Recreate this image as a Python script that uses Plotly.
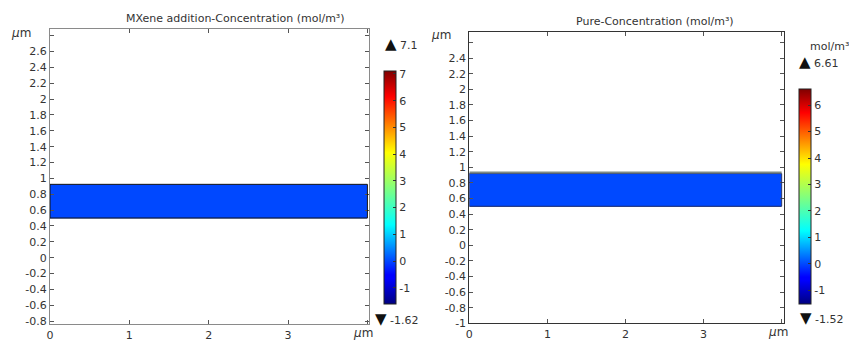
import plotly.graph_objects as go

W, H = 849, 340

# ---- data ----
titles = ["MXene addition-Concentration (mol/m³)", "Pure-Concentration (mol/m³)"]
x_ticks = [0, 1, 2, 3, 4]
x_ticktext = ["0", "1", "2", "3", ""]
yticks_left = [-0.8, -0.6, -0.4, -0.2, 0, 0.2, 0.4, 0.6, 0.8, 1, 1.2, 1.4, 1.6,
               1.8, 2, 2.2, 2.4, 2.6, 2.8]
yticks_right = [-1, -0.8, -0.6, -0.4, -0.2, 0, 0.2, 0.4, 0.6, 0.8, 1, 1.2, 1.4,
                1.6, 1.8, 2, 2.2, 2.4, 2.6]
# band geometry (µm) and concentration value
band_x = [0, 4]
band_left_y = [0.5, 0.925]
band_right_y = [0.5, 0.92]
band_right_cap = 0.932
band_conc_left = 0.0
band_conc_right = 0.0
# colour range limits
cmin_left, cmax_left = -1.62, 7.1
cmin_right, cmax_right = -1.52, 6.61
cbar_ticks_left = [-1, 0, 1, 2, 3, 4, 5, 6, 7]
cbar_ticks_right = [-1, 0, 1, 2, 3, 4, 5, 6]


def fmt(v):
    return "%g" % v


jet = [[0.0, "rgb(0,0,128)"], [0.11, "rgb(0,0,255)"], [0.125, "rgb(0,0,255)"],
       [0.34, "rgb(0,255,255)"], [0.65, "rgb(255,255,0)"],
       [0.89, "rgb(255,0,0)"], [1.0, "rgb(128,0,0)"]]

FONT = "DejaVu Sans"
TXT = "#333333"


def px(x):
    return x / W


def py(y):
    return (H - y) / H


fig = go.Figure()

fig.add_trace(go.Heatmap(x=band_x, y=band_left_y, z=[[band_conc_left]],
                         coloraxis="coloraxis", xaxis="x", yaxis="y",
                         hoverinfo="skip"))
fig.add_trace(go.Heatmap(x=band_x, y=band_right_y, z=[[band_conc_right]],
                         coloraxis="coloraxis2", xaxis="x2", yaxis="y2",
                         hoverinfo="skip"))

axis_common = dict(showgrid=False, zeroline=False, showline=True, mirror="ticks",
                   ticks="inside", ticklen=4, tickwidth=1, automargin=False,
                   tickfont=dict(family=FONT, size=11, color=TXT), fixedrange=True)

fig.update_layout(
    width=W, height=H, margin=dict(l=0, r=0, t=0, b=0, autoexpand=False),
    paper_bgcolor="white", plot_bgcolor="white", showlegend=False,
    xaxis=dict(domain=[px(50), px(369)], range=[0, 4.02], tickvals=x_ticks,
               ticktext=x_ticktext, anchor="y", linecolor="#8a8a8a",
               tickcolor="#555", **axis_common),
    yaxis=dict(domain=[py(324.3), py(29.3)], range=[-0.84, 2.88],
               tickvals=yticks_left,
               ticktext=[fmt(v) if v < 2.7 else "" for v in yticks_left],
               anchor="x", linecolor="#8a8a8a", tickcolor="#555", **axis_common),
    xaxis2=dict(domain=[px(469.3), px(784)], range=[0, 4.03], tickvals=x_ticks,
                ticktext=x_ticktext, anchor="y2", linecolor="#333",
                tickcolor="#555", **axis_common),
    yaxis2=dict(domain=[py(323.3), py(32)], range=[-1, 2.735],
                tickvals=yticks_right,
                ticktext=[fmt(v) if v < 2.5 else "" for v in yticks_right],
                anchor="x2", linecolor="#333", tickcolor="#555", **axis_common),
    coloraxis=dict(cmin=cmin_left, cmax=cmax_left, colorscale=jet,
                   colorbar=dict(x=px(384.3), xanchor="left", y=py(304.3),
                                 yanchor="bottom", len=(304.3 - 71) / H,
                                 lenmode="fraction", thickness=11.5,
                                 thicknessmode="pixels", xpad=0, ypad=0,
                                 outlinewidth=1, outlinecolor="#222",
                                 tickvals=cbar_ticks_left,
                                 ticktext=[fmt(v) for v in cbar_ticks_left],
                                 ticks="inside", ticklen=3, tickcolor="#333",
                                 tickfont=dict(family=FONT, size=11, color=TXT))),
    coloraxis2=dict(cmin=cmin_right, cmax=cmax_right, colorscale=jet,
                    colorbar=dict(x=px(799.3), xanchor="left", y=py(304),
                                  yanchor="bottom", len=(304 - 89.3) / H,
                                  lenmode="fraction", thickness=11.5,
                                  thicknessmode="pixels", xpad=0, ypad=0,
                                  outlinewidth=1, outlinecolor="#222",
                                  tickvals=cbar_ticks_right,
                                  ticktext=[fmt(v) for v in cbar_ticks_right],
                                  ticks="inside", ticklen=3, tickcolor="#333",
                                  tickfont=dict(family=FONT, size=11, color=TXT))),
)

# domain outlines
fig.add_shape(type="rect", xref="x", yref="y", x0=band_x[0], x1=band_x[1],
              y0=band_left_y[0], y1=band_left_y[1],
              line=dict(color="#111", width=1))
fig.add_shape(type="rect", xref="x2", yref="y2", x0=band_x[0], x1=band_x[1],
              y0=band_right_y[0], y1=band_right_y[1],
              line=dict(color="#1a2a6a", width=1))
fig.add_shape(type="line", xref="x2", yref="y2", x0=band_x[0], x1=band_x[1],
              y0=band_right_cap, y1=band_right_cap,
              line=dict(color="#7d8a85", width=2))


def tri(sym, val):
    return "<span style='font-size:15px;color:#111'>%s</span> %s" % (sym, fmt(val))


ann_font = dict(family=FONT, size=11, color=TXT)
mu_font = dict(family=FONT, size=12, color=TXT)
annotations = [
    dict(x=px(235), y=py(18), text=titles[0], xanchor="center", yanchor="middle"),
    dict(x=px(654.5), y=py(21), text=titles[1], xanchor="center", yanchor="middle"),
    dict(x=px(9), y=py(32.5), text="<i>µ</i>m", xanchor="left", yanchor="middle",
         font=mu_font),
    dict(x=px(429), y=py(35.5), text="<i>µ</i>m", xanchor="left", yanchor="middle",
         font=mu_font),
    dict(x=px(351), y=py(333), text="<i>µ</i>m", xanchor="left", yanchor="middle",
         font=mu_font),
    dict(x=px(766), y=py(332), text="<i>µ</i>m", xanchor="left", yanchor="middle",
         font=mu_font),
    dict(x=px(383), y=py(44), text=tri("▲", cmax_left), xanchor="left",
         yanchor="middle"),
    dict(x=px(373), y=py(319), text=tri("▼", cmin_left), xanchor="left",
         yanchor="middle"),
    dict(x=px(808), y=py(46.5), text="mol/m³", xanchor="left", yanchor="middle"),
    dict(x=px(797), y=py(62.3), text=tri("▲", cmax_right), xanchor="left",
         yanchor="middle"),
    dict(x=px(798), y=py(317.7), text=tri("▼", cmin_right), xanchor="left",
         yanchor="middle"),
]
for a in annotations:
    a.setdefault("font", ann_font)
    fig.add_annotation(xref="paper", yref="paper", showarrow=False, **a)

fig.write_html("out.html")
